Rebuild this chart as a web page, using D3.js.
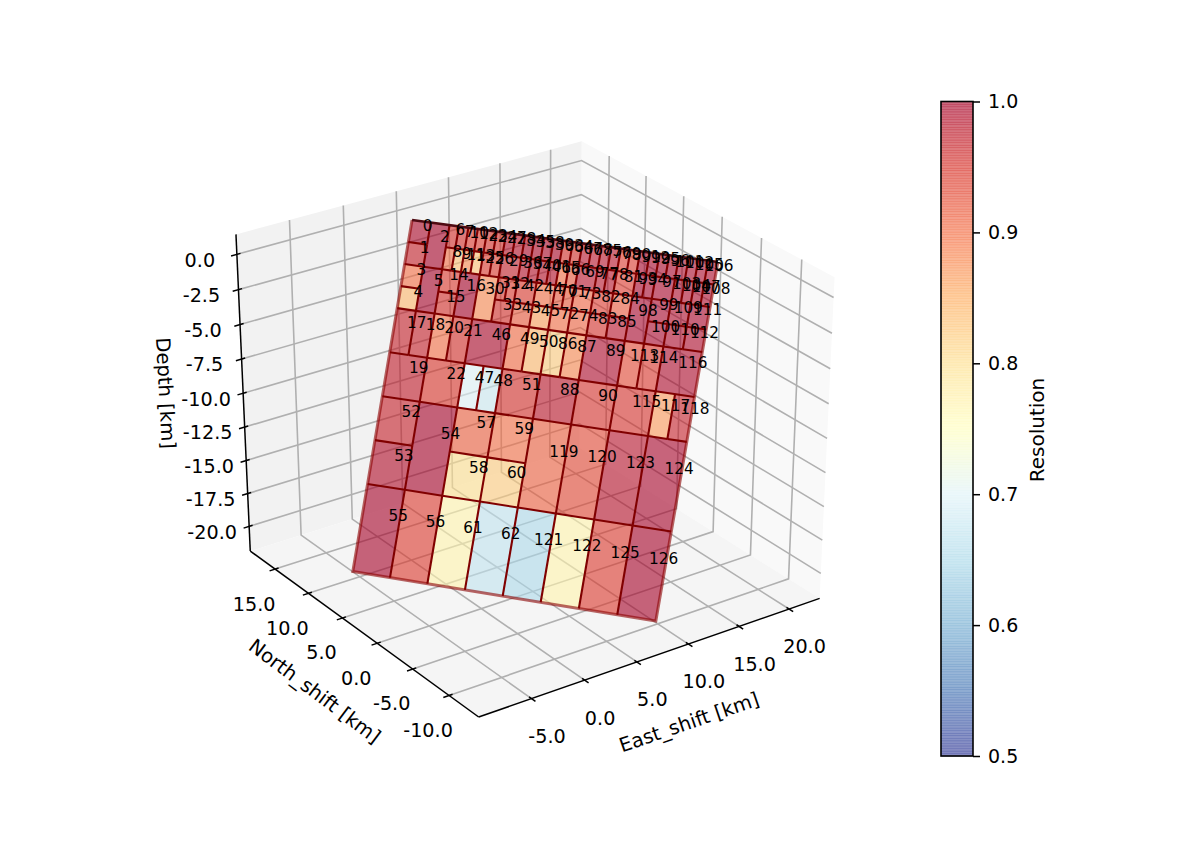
<!DOCTYPE html>
<html>
<head>
<meta charset="utf-8">
<script src="https://cdn.jsdelivr.net/npm/d3@7"></script>
<style>
  html, body { margin: 0; padding: 0; background: #fff; }
  svg { display: block; font-family: "DejaVu Sans", sans-serif; }
</style>
</head>
<body>
<svg id="chart" width="1200" height="849"></svg>
<script>
// Ticks and limits (km)
const xTicks = [-5, 0, 5, 10, 15, 20];
const yTicks = [-10, -5, 0, 5, 10, 15];
const zTicks = [0, -2.5, -5, -7.5, -10, -12.5, -15, -17.5, -20];
const xLimits = [-9.9, 23.1];
const yLimits = [-14, 18.8];
const zLimits = [-21.9, 1.4];
const colorTicks = [0.5, 0.6, 0.7, 0.8, 0.9, 1.0];

// Fault plane: top left corner and the two edge vectors (km)
const faultCorner = [5.0, 16.6, 0];
const faultStrike = [14.9, -20.3, 0];
const faultDip = [-12.24, -9.12, -20];
const gridSteps = 32;

// Patches 0..126, in steps of 1/32 of the fault plane
const patchU = [0,0,2,0,0,2,4,5,4,5,6,6,7,7,4,4,6,0,2,0,4,6,4,8,9,8,9,10,11,10,8,10,11,10,12,13,12,13,14,15,14,15,12,12,14,14,8,8,10,12,14,12,0,0,4,0,4,8,8,12,12,8,12,16,17,16,17,18,19,18,16,17,16,18,18,20,21,20,21,22,23,22,20,20,22,22,16,18,16,20,20,24,25,24,25,26,27,26,24,26,26,28,29,28,29,30,31,30,31,28,28,30,30,24,26,24,28,28,30,16,20,16,20,24,28,24,28];
const patchV = [0,2,0,4,6,4,0,0,2,2,0,2,0,2,4,6,4,8,8,12,8,8,12,0,0,2,2,0,0,2,4,4,4,6,0,0,2,2,0,0,2,2,4,6,4,6,8,12,12,8,8,12,16,20,16,24,24,16,20,16,20,24,24,0,0,2,2,0,0,2,4,4,6,4,6,0,0,2,2,0,0,2,4,6,4,6,8,8,12,8,12,0,0,2,2,0,0,2,4,4,6,0,0,2,2,0,0,2,2,4,6,4,6,8,8,12,8,12,12,16,16,24,24,16,16,24,24];
const patchW = [2,2,2,2,2,2,1,1,1,1,1,1,1,1,2,2,2,2,2,4,2,2,4,1,1,1,1,1,1,2,2,1,1,2,1,1,1,1,1,1,1,1,2,2,2,2,4,2,2,2,2,4,4,4,4,4,4,4,4,4,4,4,4,1,1,1,1,1,1,2,1,1,2,2,2,1,1,1,1,1,1,2,2,2,2,2,2,2,4,4,4,1,1,1,1,1,1,2,2,2,2,1,1,1,1,1,1,1,1,2,2,2,2,2,2,4,4,2,2,4,4,4,4,4,4,4,4];
const patchH = [2,2,4,2,2,4,2,2,2,2,2,2,2,2,2,2,4,4,4,4,4,4,4,2,2,2,2,2,2,2,4,2,2,2,2,2,2,2,2,2,2,2,2,2,2,2,4,4,4,4,4,4,4,4,8,8,8,4,4,4,4,8,8,2,2,2,2,2,2,2,2,2,2,2,2,2,2,2,2,2,2,2,2,2,2,2,4,4,4,4,4,2,2,2,2,2,2,2,4,2,2,2,2,2,2,2,2,2,2,2,2,2,2,4,4,4,4,4,4,8,8,8,8,8,8,8,8];
const resolution = [
  0.995,0.97,1.0,0.90,0.84,1.0,0.955,0.955,0.90,0.83,0.945,0.88,0.945,0.83,0.945,0.955,1.0,
  0.97,0.97,0.975,0.90,0.955,0.95,
  0.955,0.955,0.945,0.945,0.985,0.985,0.97,0.88,0.945,0.945,0.955,
  0.995,0.995,0.985,0.985,0.995,0.995,0.985,0.985,0.945,0.92,0.90,0.86,
  0.995,0.70,0.68,0.905,0.84,0.955,
  0.97,0.99,1.0,1.0,0.945,0.915,0.80,0.90,0.82,0.77,0.67,
  0.955,0.955,0.90,0.92,0.985,0.985,0.985,0.92,0.92,0.90,0.91,0.91,
  0.985,0.985,0.985,0.985,0.945,0.945,0.945,0.945,0.955,0.92,0.985,
  0.82,0.88,0.98,0.995,0.955,
  1.0,1.0,1.0,1.0,1.0,1.0,1.0,1.0,1.0,1.0,
  0.995,0.995,0.995,0.995,0.995,0.995,0.995,0.995,0.995,0.995,1.0,0.995,
  0.935,0.95,0.955,0.995,0.87,0.97,
  0.915,0.935,0.65,0.77,0.985,1.0,0.945,1.0
];

const svg = d3.select("#chart");

// Camera, same model as a matplotlib 3d axes
const elev = 30 * Math.PI / 180;
const azim = -125 * Math.PI / 180;
const dist = 10;
const right = [-Math.sin(azim), Math.cos(azim), 0];
const up = [-Math.cos(azim) * Math.sin(elev), -Math.sin(azim) * Math.sin(elev), Math.cos(elev)];
const toEye = [Math.cos(azim) * Math.cos(elev), Math.sin(azim) * Math.cos(elev), Math.sin(elev)];
const dot = (a, b) => a[0] * b[0] + a[1] * b[1] + a[2] * b[2];

const boxX = d3.scaleLinear().domain(xLimits).range([-0.5, 0.5]);
const boxY = d3.scaleLinear().domain(yLimits).range([-0.5, 0.5]);
const boxZ = d3.scaleLinear().domain(zLimits).range([-0.5, 0.5]);
const screenX = d3.scaleLinear().domain([0, 1]).range([532, 532 + 419]);
const screenY = d3.scaleLinear().domain([0, 1]).range([419, 419 - 368]);

const project = ([x, y, z]) => {
  const q = [boxX(x), boxY(y), boxZ(z)];
  const w = (dist - dot(q, toEye)) / dist;
  return [screenX(dot(q, right) / w), screenY(dot(q, up) / w)];
};
const line3d = d3.line().x((d) => project(d)[0]).y((d) => project(d)[1]);
const [x0, x1] = xLimits;
const [y0, y1] = yLimits;
const [z0, z1] = zLimits;

// Panes
const panes = [
  { fill: "#f9f9f9", pts: [[x1, y1, z0], [x1, y0, z0], [x1, y0, z1], [x1, y1, z1]] },
  { fill: "#f2f2f2", pts: [[x0, y1, z0], [x1, y1, z0], [x1, y1, z1], [x0, y1, z1]] },
  { fill: "#f5f5f5", pts: [[x0, y0, z0], [x1, y0, z0], [x1, y1, z0], [x0, y1, z0]] },
];
svg.append("g").selectAll("path").data(panes).enter().append("path")
  .attr("d", (d) => line3d(d.pts) + "Z")
  .attr("fill", (d) => d.fill);

// Grid lines run along the floor and then up the back walls
const gridLines = [
  ...xTicks.map((t) => [[t, y0, z0], [t, y1, z0], [t, y1, z1]]),
  ...yTicks.map((t) => [[x0, t, z0], [x1, t, z0], [x1, t, z1]]),
  ...zTicks.map((t) => [[x0, y1, t], [x1, y1, t], [x1, y0, t]]),
];
svg.append("g").selectAll("path").data(gridLines).enter().append("path")
  .attr("d", line3d)
  .attr("fill", "none")
  .attr("stroke", "#b0b0b0")
  .attr("stroke-width", 1.6);

// Axis lines and ticks
const axisLines = [
  [[x0, y0, z0], [x1, y0, z0]],
  [[x0, y0, z0], [x0, y1, z0]],
  [[x0, y1, z0], [x0, y1, z1]],
];
const tickOut = 0.016;
const tickIn = 0.01;
const xSpan = x1 - x0;
const ySpan = y1 - y0;
const tickLines = [
  ...xTicks.map((t) => [[t, y0 - tickOut * ySpan, z0], [t, y0 + tickIn * ySpan, z0]]),
  ...yTicks.map((t) => [[x0 - tickOut * xSpan, t, z0], [x0 + tickIn * xSpan, t, z0]]),
  ...zTicks.map((t) => [[x0 - tickOut * xSpan, y1, t], [x0 + tickIn * xSpan, y1, t]]),
];
svg.append("g").selectAll("path").data([...axisLines, ...tickLines]).enter().append("path")
  .attr("d", line3d)
  .attr("fill", "none")
  .attr("stroke", "#000")
  .attr("stroke-width", 1.5);

// Tick labels, plain hyphen for minus like the original
const tickText = d3.format(".1f");
const tickLabels = [
  ...xTicks.map((t) => ({ t, at: [t, y0, z0], dx: 15.5, dy: 37.5 })),
  ...yTicks.map((t) => ({ t, at: [x0, t, z0], dx: -21, dy: 34.5 })),
  ...zTicks.map((t) => ({ t, at: [x0, y1, t], dx: -37, dy: 5.5 })),
];
svg.append("g").selectAll("text").data(tickLabels).enter().append("text")
  .attr("x", (d) => project(d.at)[0] + d.dx)
  .attr("y", (d) => project(d.at)[1] + d.dy)
  .attr("text-anchor", "middle")
  .attr("dy", "0.36em")
  .attr("font-size", 19.2)
  .text((d) => tickText(d.t).replace("\u2212", "-"));

const axisTitles = [
  { text: "East_shift [km]", x: 689, y: 722, angle: -19 },
  { text: "North_shift [km]", x: 315, y: 691, angle: 37 },
  { text: "Depth [km]", x: 166, y: 393, angle: 87 },
];
svg.append("g").selectAll("text").data(axisTitles).enter().append("text")
  .attr("transform", (d) => `translate(${d.x},${d.y}) rotate(${d.angle})`)
  .attr("text-anchor", "middle")
  .attr("dy", "0.36em")
  .attr("font-size", 19.6)
  .text((d) => d.text);

// Colours, RdYlBu reversed with the matplotlib stops
const colorStops = ["#313695", "#4575b4", "#74add1", "#abd9e9", "#e0f3f8", "#ffffbf", "#fee090", "#fdae61", "#f46d43", "#d73027", "#a50026"];
const color = d3.scaleLinear()
  .domain(d3.range(11).map((i) => 0.5 + i * 0.05))
  .range(colorStops)
  .clamp(true);

// Fault patches
const faultPoint = (u, v) => [0, 1, 2].map((i) => faultCorner[i] + (u * faultStrike[i] + v * faultDip[i]) / gridSteps);
const patches = d3.range(resolution.length).map((id) => ({
  id,
  u: patchU[id],
  v: patchV[id],
  w: patchW[id],
  h: patchH[id],
  value: resolution[id],
}));

const cells = svg.append("g");
cells.selectAll("path").data(patches).enter().append("path")
  .attr("d", (d) => line3d([
    faultPoint(d.u, d.v),
    faultPoint(d.u + d.w, d.v),
    faultPoint(d.u + d.w, d.v + d.h),
    faultPoint(d.u, d.v + d.h),
  ]) + "Z")
  .attr("fill", (d) => color(d.value))
  .attr("fill-opacity", 0.6);

// Inner patch borders: only the bottom and right side of each patch, the rim is drawn apart
const innerEdges = [];
patches.forEach((d) => {
  if (d.v + d.h < gridSteps) innerEdges.push([faultPoint(d.u, d.v + d.h), faultPoint(d.u + d.w, d.v + d.h)]);
  if (d.u + d.w < gridSteps) innerEdges.push([faultPoint(d.u + d.w, d.v), faultPoint(d.u + d.w, d.v + d.h)]);
});
cells.append("g").selectAll("path").data(innerEdges).enter().append("path")
  .attr("d", line3d)
  .attr("fill", "none")
  .attr("stroke", "#800000")
  .attr("stroke-width", 2.1);

// Rim of the fault
const rim = [faultPoint(0, 0), faultPoint(0, gridSteps), faultPoint(gridSteps, gridSteps), faultPoint(gridSteps, 0)];
cells.append("path")
  .attr("d", line3d(rim))
  .attr("fill", "none")
  .attr("stroke", "#8b0000")
  .attr("stroke-opacity", 0.6)
  .attr("stroke-width", 3);
cells.append("path")
  .attr("d", line3d([faultPoint(0, 0), faultPoint(gridSteps, 0)]))
  .attr("fill", "none")
  .attr("stroke", "#4f0a12")
  .attr("stroke-width", 2.6);

// Patch numbers sit up and right of the patch centre, more so for tall patches further down
const labelDxTop = d3.scaleLinear().domain([1, 7]).range([8, 10]);
const labelDxLow = d3.scaleLinear().domain([4, 8]).range([14, 19.5]);
const labelDy = d3.scaleLinear().domain([2, 4, 8]).range([-7, -9.5, -15]);
const labelDx = (d) => (d.v < 8 ? labelDxTop(d.v + d.h / 2) : labelDxLow(d.h));
svg.append("g").selectAll("text").data(patches).enter().append("text")
  .attr("x", (d) => project(faultPoint(d.u + d.w / 2, d.v + d.h / 2))[0] + labelDx(d))
  .attr("y", (d) => project(faultPoint(d.u + d.w / 2, d.v + d.h / 2))[1] + labelDy(d.h))
  .attr("text-anchor", "middle")
  .attr("dy", "0.36em")
  .attr("font-size", 15.3)
  .attr("fill", "#000")
  .text((d) => d.id);

// Colour bar
const barLeft = 941;
const barRight = 973;
const barY = d3.scaleLinear().domain([0.5, 1]).range([756, 101.5]);
const bands = d3.range(256).map((i) => 0.5 + (i / 256) * 0.5);
const bandHeight = barY(0.5) - barY(0.5 + 0.5 / 256);
const bar = svg.append("g");
bar.selectAll("rect").data(bands).enter().append("rect")
  .attr("x", barLeft)
  .attr("width", barRight - barLeft)
  .attr("y", (d) => barY(d) - bandHeight)
  .attr("height", bandHeight + 0.45)
  .attr("fill", (d) => color(d + 0.25 / 256))
  .attr("fill-opacity", 0.6);
bar.append("rect")
  .attr("x", barLeft)
  .attr("width", barRight - barLeft)
  .attr("y", barY(1))
  .attr("height", barY(0.5) - barY(1))
  .attr("fill", "none")
  .attr("stroke", "#000")
  .attr("stroke-width", 1.6);

const barAxis = svg.append("g")
  .attr("transform", `translate(${barRight},0)`)
  .call(d3.axisRight(barY).tickValues(colorTicks).tickFormat(d3.format(".1f")).tickSize(7).tickPadding(8));
barAxis.select(".domain").remove();
barAxis.selectAll("line").attr("stroke-width", 1.5);
barAxis.selectAll("text").attr("font-size", 19).attr("font-family", '"DejaVu Sans", sans-serif');

svg.append("text")
  .attr("transform", "translate(1037,430) rotate(-90)")
  .attr("text-anchor", "middle")
  .attr("dy", "0.36em")
  .attr("font-size", 20)
  .text("Resolution");
</script>
</body>
</html>
